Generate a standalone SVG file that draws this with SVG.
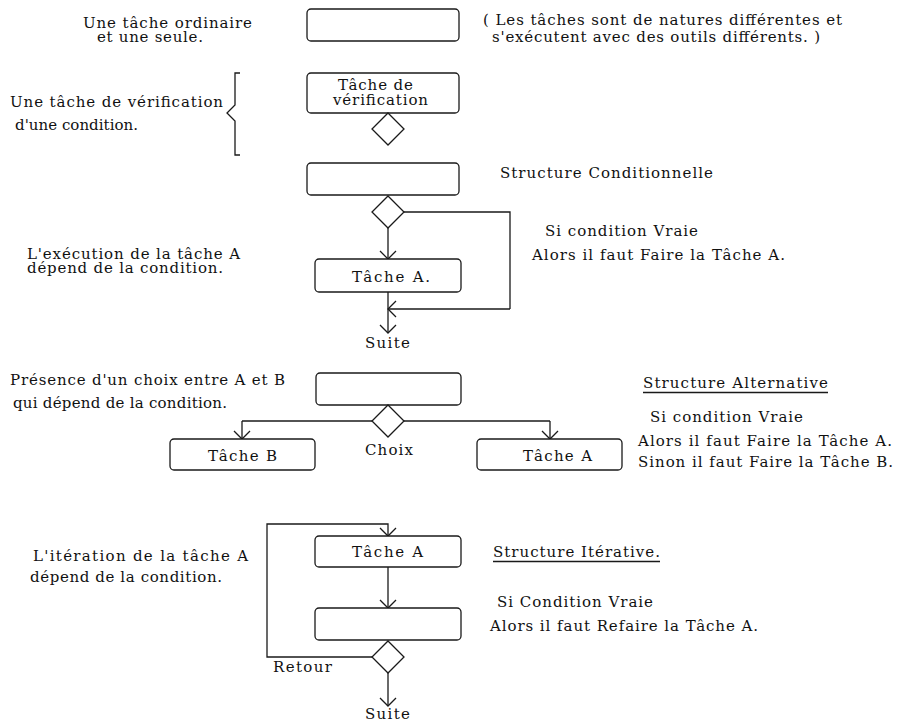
<svg xmlns="http://www.w3.org/2000/svg" width="897" height="723" viewBox="0 0 897 723">
<style>
text{font-family:"DejaVu Serif","Liberation Serif",serif;font-size:15px;fill:#111}
.box{fill:#fff;stroke:#1a1a1a;stroke-width:1.3}
.dia{fill:#fff;stroke:#1a1a1a;stroke-width:1.3}
.ln{fill:none;stroke:#1a1a1a;stroke-width:1.3}
.arr{fill:none;stroke:#1a1a1a;stroke-width:1.3;marker-end:url(#v)}
</style>
<defs>
<marker id="v" markerUnits="userSpaceOnUse" markerWidth="20" markerHeight="20" refX="10" refY="10" orient="auto" viewBox="0 0 20 20">
<path d="M2,2 L10,10 L2,18" fill="none" stroke="#1a1a1a" stroke-width="1.3"/>
</marker>
</defs>
<rect width="897" height="723" fill="#fff"/>

<g id="connectors">
<path class="arr" d="M388,228 V259"/>
<path class="ln" d="M404,212 H510 V309"/>
<path class="arr" d="M510,309 H388"/>
<path class="arr" d="M388,292 V333"/>
<path class="ln" d="M372,421 H242"/>
<path class="arr" d="M242,421 V439"/>
<path class="ln" d="M404,421 H550"/>
<path class="arr" d="M550,421 V439"/>
<path class="arr" d="M372,657 H267 V524 H388 V536"/>
<path class="arr" d="M388,567 V608"/>
<path class="arr" d="M388,673 V706"/>
</g>

<g id="n-ordinaire">
<rect class="box" x="307" y="9" width="152" height="32" rx="4"/>
<text x="83" y="28" textLength="169">Une tâche ordinaire</text>
<text x="97" y="42" textLength="106">et une seule.</text>
<text x="483" y="25" textLength="359">( Les tâches sont de natures différentes et</text>
<text x="492" y="42" textLength="328">s'exécutent avec des outils différents. )</text>
</g>

<g id="n-verification">
<rect class="box" x="307" y="73" width="152" height="40" rx="4"/>
<text x="338" y="90" textLength="75">Tâche de</text>
<text x="333" y="105" textLength="95">vérification</text>
<path class="dia" d="M388,113 L404,129 L388,145 L372,129 Z"/>
<path class="ln" d="M240,73 H235 V105 L227,113 L235,121 V155 H240"/>
<text x="10" y="107" textLength="213">Une tâche de vérification</text>
<text x="15" y="130" textLength="123">d'une condition.</text>
</g>

<g id="n-conditionnelle">
<rect class="box" x="307" y="163" width="152" height="32" rx="4"/>
<path class="dia" d="M388,196 L404,212 L388,228 L372,212 Z"/>
<text x="500" y="178" textLength="213">Structure Conditionnelle</text>
<text x="545" y="236" textLength="153">Si condition Vraie</text>
<text x="532" y="260" textLength="253">Alors il faut Faire la Tâche A.</text>
<text x="27" y="259" textLength="213">L'exécution de la tâche A</text>
<text x="27" y="273" textLength="196">dépend de la condition.</text>
</g>

<g id="n-tacheA1">
<rect class="box" x="315" y="259" width="146" height="33" rx="4"/>
<text x="352" y="282" textLength="78">Tâche A.</text>
<text x="365" y="348" textLength="45">Suite</text>
</g>

<g id="n-alternative">
<rect class="box" x="316" y="373" width="145" height="32" rx="4"/>
<path class="dia" d="M388,405 L404,421 L388,437 L372,421 Z"/>
<text x="365" y="455" textLength="48">Choix</text>
<text x="10" y="385" textLength="275">Présence d'un choix entre A et B</text>
<text x="13" y="408" textLength="214">qui dépend de la condition.</text>
<text x="643" y="388" textLength="185">Structure Alternative</text>
<path class="ln" d="M643,392.5 H828"/>
<text x="650" y="422" textLength="153">Si condition Vraie</text>
<text x="638" y="446" textLength="254">Alors il faut Faire la Tâche A.</text>
<text x="638" y="467" textLength="255">Sinon il faut Faire la Tâche B.</text>
</g>

<g id="n-tacheB">
<rect class="box" x="170" y="439" width="145" height="31" rx="4"/>
<text x="208" y="461" textLength="69">Tâche B</text>
</g>

<g id="n-tacheA2">
<rect class="box" x="477" y="439" width="145" height="31" rx="4"/>
<text x="523" y="461" textLength="69">Tâche A</text>
</g>

<g id="n-tacheA3">
<rect class="box" x="315" y="536" width="146" height="31" rx="4"/>
<text x="352" y="557" textLength="71">Tâche A</text>
<text x="33" y="561" textLength="215">L'itération de la tâche A</text>
<text x="30" y="582" textLength="192">dépend de la condition.</text>
<text x="493" y="557" textLength="167">Structure Itérative.</text>
<path class="ln" d="M493,561.5 H660"/>
</g>

<g id="n-iterative">
<rect class="box" x="315" y="608" width="146" height="32" rx="4"/>
<path class="dia" d="M388,641 L404,657 L388,673 L372,657 Z"/>
<text x="497" y="607" textLength="156">Si Condition Vraie</text>
<text x="490" y="631" textLength="268">Alors il faut Refaire la Tâche A.</text>
<text x="273" y="672" textLength="59">Retour</text>
<text x="365" y="719" textLength="45">Suite</text>
</g>
</svg>
